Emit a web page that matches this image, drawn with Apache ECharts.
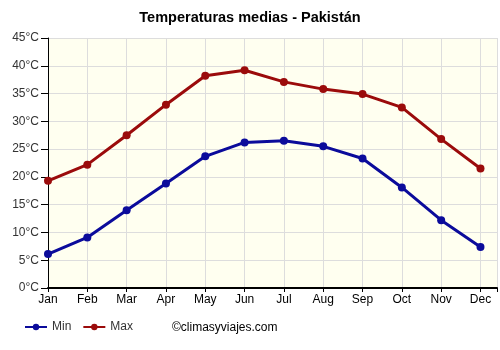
<!DOCTYPE html>
<html lang="es">
  <head>
    <meta charset="UTF-8" />
    <title>Temperaturas medias - Pakistán</title>
    <style>
      * {
        margin: 0;
        padding: 0;
      }
      #main {
        width: 500px;
        height: 350px;
      }
    </style>
  </head>
  <body>
    <div id="main"></div>
    <script src="https://cdn.jsdelivr.net/npm/echarts@6/dist/echarts.min.js"></script>
    <script>
      // datos
      const meses = ["Jan", "Feb", "Mar", "Apr", "May", "Jun", "Jul", "Aug", "Sep", "Oct", "Nov", "Dec"];
      const tempMin = [6.1, 9.1, 14.0, 18.8, 23.7, 26.2, 26.5, 25.5, 23.3, 18.1, 12.2, 7.4];
      const tempMax = [19.3, 22.2, 27.5, 33.0, 38.2, 39.2, 37.1, 35.8, 34.9, 32.5, 26.8, 21.5];

      const myChart = echarts.init(document.getElementById("main"));

      const toPairs = (arr) => arr.map((v, i) => [i, v]);

      const option = {
        backgroundColor: "#ffffff",
        animation: false,
        title: {
          text: "Temperaturas medias - Pakistán",
          left: "center",
          top: 5,
          textStyle: {
            fontFamily: "Liberation Sans",
            fontSize: 14.5,
            fontWeight: "bold",
            color: "#000",
          },
        },
        legend: {
          left: 19,
          bottom: 12,
          itemWidth: 22,
          itemHeight: 8,
          itemGap: 11,
          textStyle: { fontFamily: "Liberation Sans", fontSize: 12, color: "#333" },
          data: ["Min", "Max"],
        },
        graphic: [
          {
            type: "text",
            left: 172,
            bottom: 16,
            style: {
              text: "©climasyviajes.com",
              font: "12px 'Liberation Sans'",
              fill: "#000",
            },
          },
        ],
        grid: {
          left: 48,
          right: 0,
          top: 38,
          bottom: 62,
          show: true,
          backgroundColor: "#fffff0",
          borderWidth: 0,
        },
        xAxis: {
          type: "value",
          min: 0,
          max: 11.42,
          interval: 1,
          axisLine: { lineStyle: { color: "#000", width: 2 } },
          axisTick: { show: true, length: 4, lineStyle: { color: "#000" } },
          axisLabel: {
            fontFamily: "Liberation Sans",
            fontSize: 12,
            color: "#000",
            margin: 6,
            formatter: (v) => (Number.isInteger(v) ? meses[v] : ""),
          },
          splitLine: { show: true, lineStyle: { color: "#dddddd" } },
        },
        yAxis: {
          type: "value",
          min: 0,
          max: 45,
          interval: 5,
          axisLine: { show: true, lineStyle: { color: "#000" } },
          axisTick: { show: true, length: 7, lineStyle: { color: "#000" } },
          axisLabel: {
            fontFamily: "Liberation Sans",
            fontSize: 12,
            color: "#333",
            margin: 9,
            formatter: "{value}°C",
          },
          splitLine: { lineStyle: { color: "#dddddd" } },
        },
        series: [
          {
            name: "Min",
            type: "line",
            data: toPairs(tempMin),
            symbol: "circle",
            symbolSize: 8,
            lineStyle: { width: 3, color: "#0b0b9b" },
            itemStyle: { color: "#0b0b9b" },
          },
          {
            name: "Max",
            type: "line",
            data: toPairs(tempMax),
            symbol: "circle",
            symbolSize: 8,
            lineStyle: { width: 3, color: "#9b0b0b" },
            itemStyle: { color: "#9b0b0b" },
          },
        ],
      };

      myChart.setOption(option);
    </script>
  </body>
</html>
